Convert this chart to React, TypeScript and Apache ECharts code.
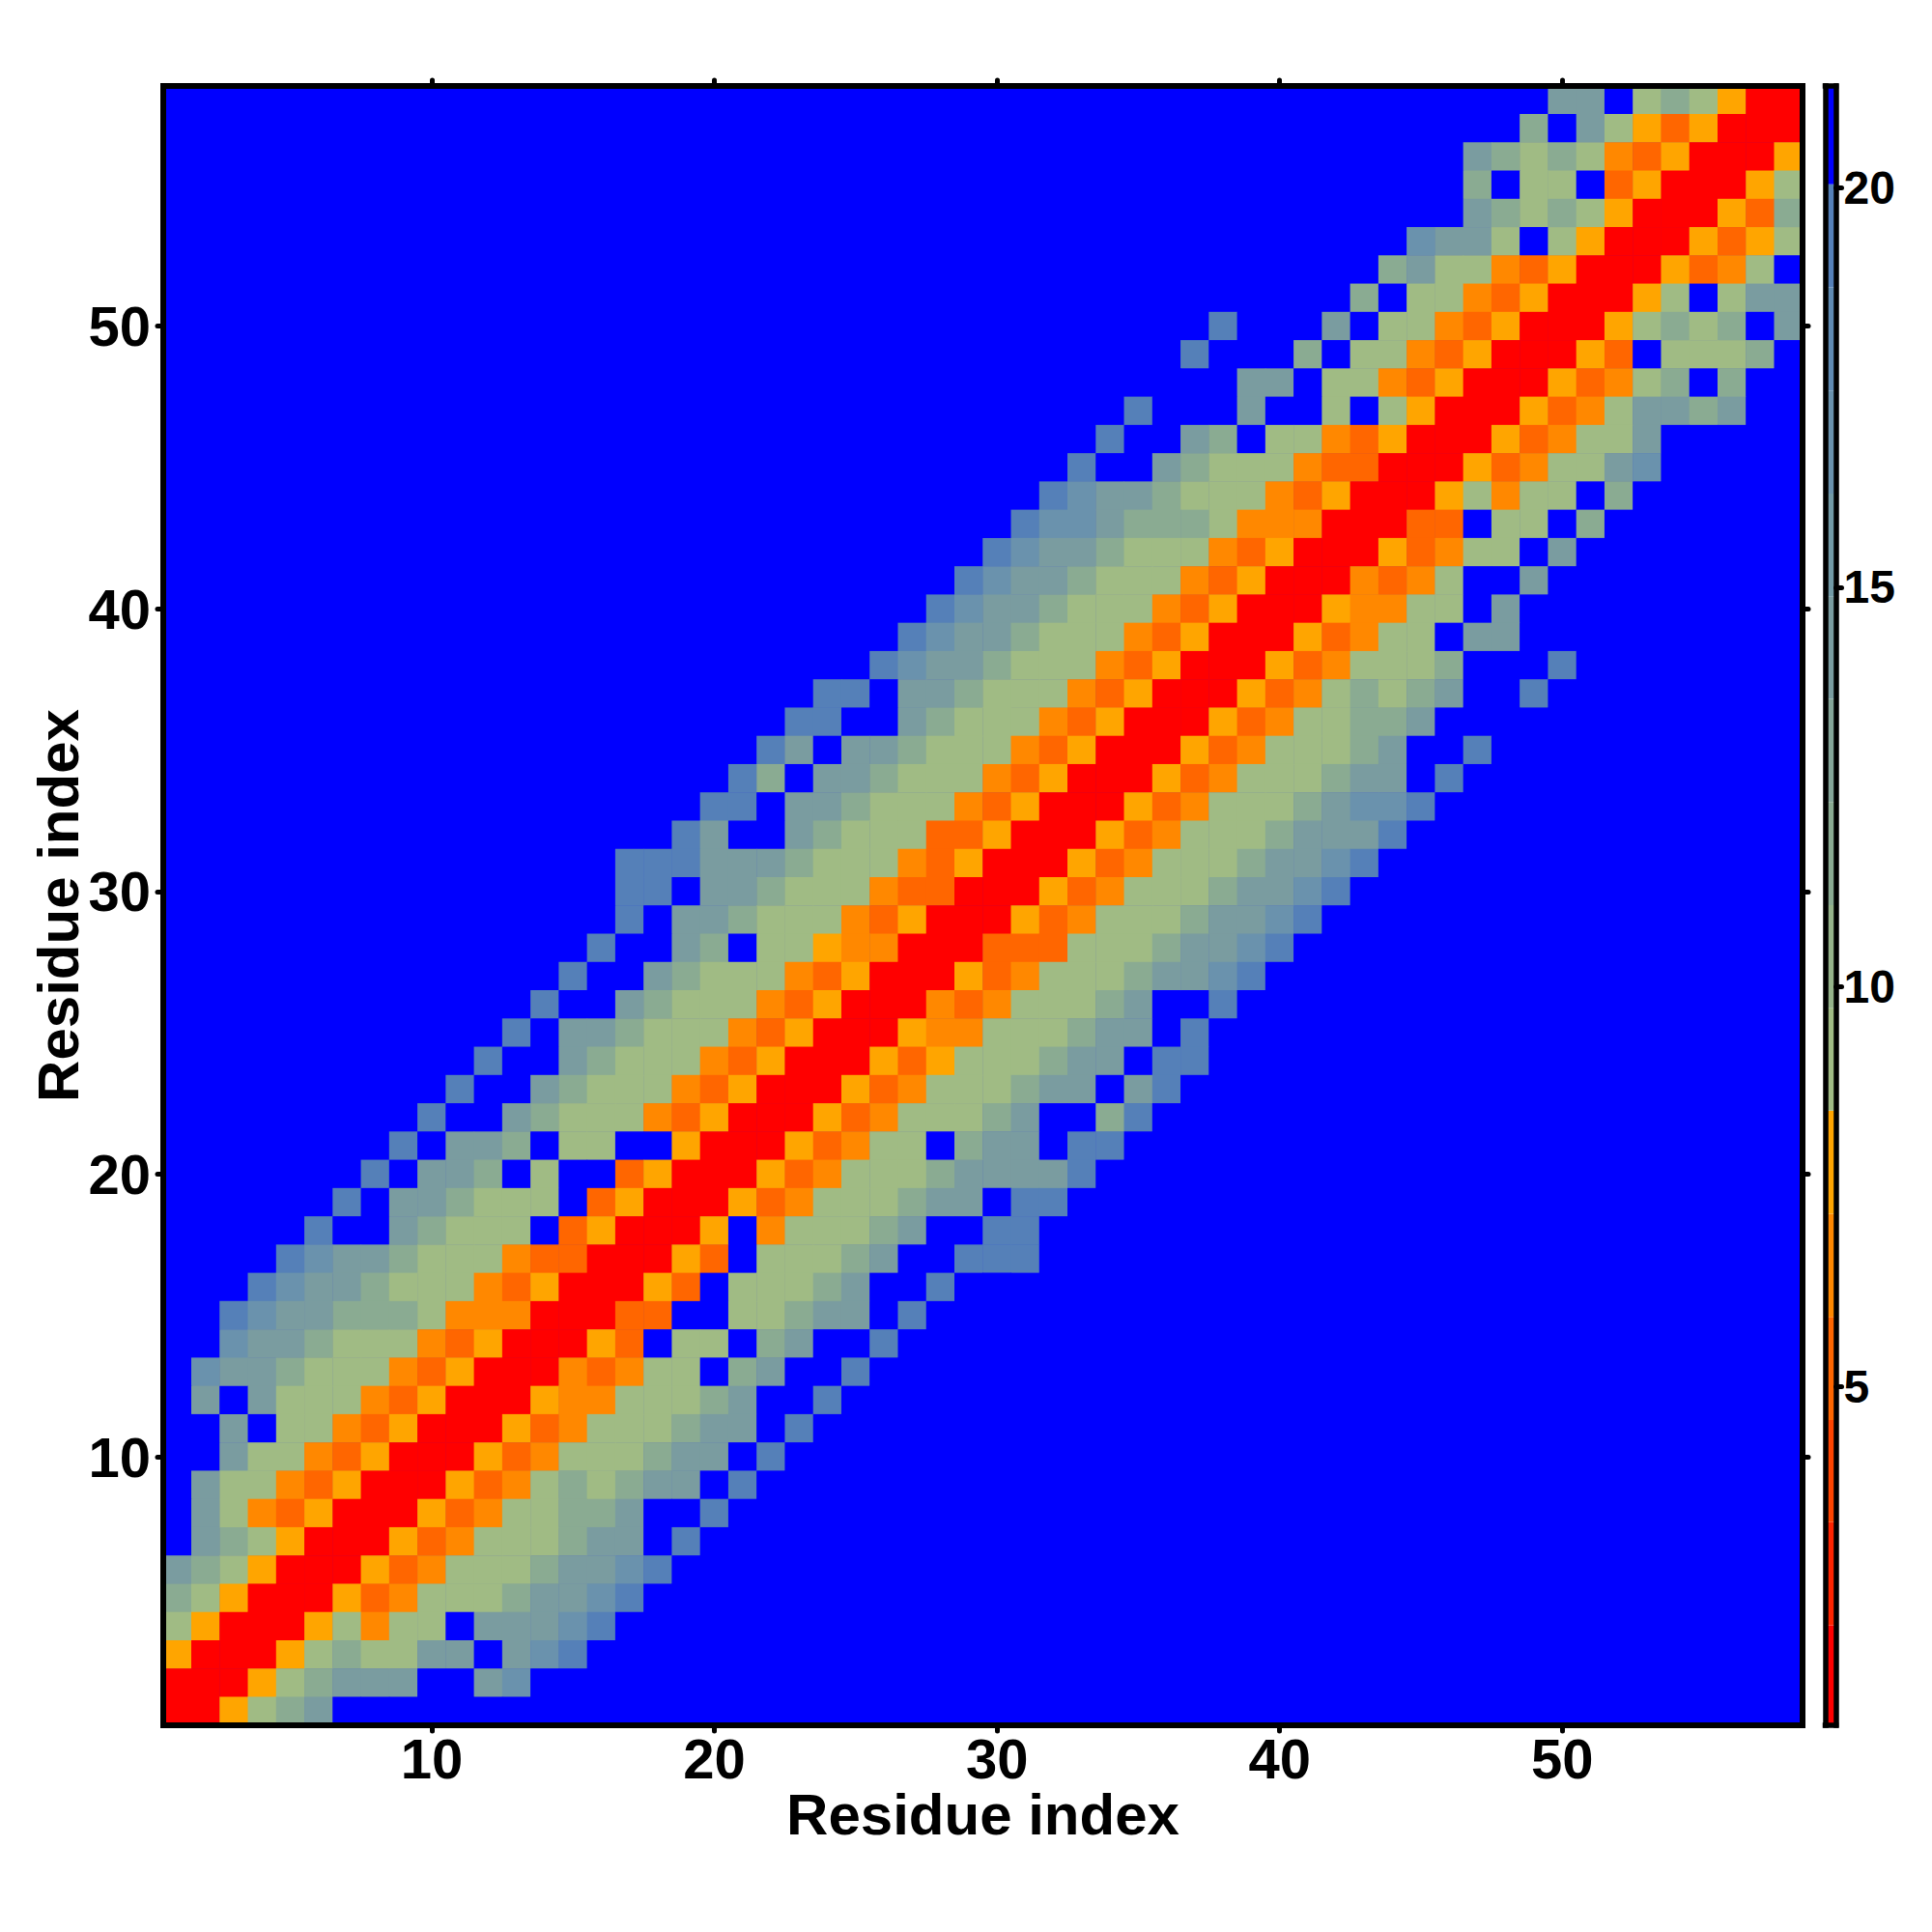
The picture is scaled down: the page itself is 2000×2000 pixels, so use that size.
import React, { useEffect, useRef } from "react";
import * as echarts from "echarts";

const residues = Array.from({ length: 58 }, (_, i) => String(i + 1));
const tickValues = [10, 20, 30, 40, 50];
const barTicks = [5, 10, 15, 20];

// Colour bar bands: upper limits and fills, from the bottom of the bar to the top.
const bandEdges = [0.76, 2.01, 3.3, 4.58, 5.87, 7.16, 8.45, 9.73, 11.02, 12.31, 13.6, 14.88, 16.17, 17.46, 18.75, 20.04, 21.27];
const bandColors = [
  "#ff0000", "#ff2400", "#ff4400", "#ff6600", "#ff8800", "#ffa500",
  "#a0bb84", "#95b38a", "#8aab92", "#84a598", "#7a9ca0", "#729aa6",
  "#6a92ad", "#5f8ab2", "#5580b8", "#0000ff",
];

// Distance read for each colour seen in the map; "." is a cell beyond the scale.
const cellDistance: Record<string, number> = {
  R: 1.5, o: 5.2, O: 6.5, A: 7.8, s: 9.1, t: 11.6, u: 14.2, v: 16.8, w: 19.4, ".": 21,
};

// Rows from residue 58 down to residue 1: blue cells before the band, then the band.
const rowOffsets = [
  49, 48, 46, 46, 46, 44, 43, 42, 37, 36, 38, 34, 33, 32, 31, 30, 29, 28, 27, 26,
  25, 23, 22, 21, 20, 19, 18, 16, 16, 16, 15, 14, 13, 12, 11, 10, 9, 8, 7, 6,
  5, 4, 3, 2, 2, 1, 1, 2, 2, 1, 1, 1, 0, 0, 0, 0, 0, 0,
];
const rowCells = [
  "uu.stsARR",
  "t.usAoARRR",
  "utstsOoARRRA",
  "t.ss.oARRRAs",
  "utstsARRRAot",
  "vuus.sARRRAoAs",
  "tussOoARRRAoOs.",
  "t.ssOoARRRAs.suu",
  "w...u.ssOoARRRAstst.u",
  "w...t.ssOoARRRAo.ssst.",
  "uu.ssOoARRRAoOst.t..",
  "w...u..s.sARRRAoOsuutu..",
  "w..ut.ssOoARRRAoOssu",
  "w..utsssOooRRRAoOssuv",
  "wvuutsssOoARRRAsOss.t",
  "wvvutttsOOORRRoo.ss.t",
  "wvuutsssOoARRRAoOss.u",
  "wvuutsssOoARRROoOs..u",
  "wvuutsssOoARRRAOOss.u",
  "wvuutsssOoARRRAoOss.uu",
  "wvuutsssOoARRRAoOssst...w",
  "ww.uutsssOoARRRAoOststu..w",
  "ww..utsssOoARRRAoOssttu",
  "wu.uutsssOoARRRAoOssstu..w",
  "wt.uutsssOoARRRAoOssstuu.w",
  "ww.uutsssOoARRRAoOssstuvvw",
  "wu..utsssooARRRAoOssstuuuw",
  "wwwuuutsssOoARRRAoOssstuuvw",
  "ww.uutsssOooRRRAoOssstuuvw",
  "w.uutsssOoARRRAoOssstuuvw",
  "w..ut.ssAOORRRooossstuuvw",
  "w..utsssOoARRRAoOssstuuvw",
  "w..utsssOoARRROoOssstu..w",
  "w.uutsssOoARRRAOOssstuu.w",
  "w..utsssOoARRRAoAssstuu.ww",
  "w..utsssOoARRRAoOssstuu.uw",
  "w..utsssOoARRRAoOssstu..tw",
  "w.uut.ss..ARRRAoOss.tuu.ww",
  "w.uut.s..oARRRAoOssstuuuuw",
  "w.uutsss.oARRRAoOssstuu.ww",
  "w..utsss.oARRRA.Ossstu..ww",
  "wvuutsssOooRRRAo.ssstu..www",
  "wvuutsssOoARRRAo.ssstu..w",
  "wvuutttsOOORRRoo..sstuu.w",
  "vuutsssOoARRRAo.ss.tu..w",
  "vuutsssOoARRROoOss.tu..w",
  "u.usssOoARRRAOOssstu..w",
  "u.ssOoARRRAoOssstuu.w",
  "ussOoARRRAoOssstuu.w",
  "ussOoARRRAoOststuu.w",
  "usOoARRRAoOssttu..w",
  "utsARRRAoOssstuu.w",
  "utsARRRAoOssstuuvw",
  "tsARRRAoOssstuuvw",
  "sARRRAsOss.uuuvw",
  "ARRRAstssuu.uvw",
  "RRRAstuuu..uv",
  "RRAstu",
];

const heatData: number[][] = [];
rowCells.forEach((cells, rowIndex) => {
  const y = 57 - rowIndex;
  for (let x = 0; x < 58; x++) {
    const symbol = cells[x - rowOffsets[rowIndex]] ?? ".";
    heatData.push([x, y, cellDistance[symbol]]);
  }
});

const barData = bandColors.map((_, i) => [0, bandEdges[i], bandEdges[i + 1]]);

const FONT = "Liberation Sans";
const isLabelled = (_: number, value: string) => tickValues.includes(Number(value));

const thickLine = { lineStyle: { color: "#000", width: 6, cap: "square" as const }, onZero: false };
const barLine = { lineStyle: { color: "#000", width: 5.5, cap: "square" as const }, onZero: false };
const tickStyle = { color: "#000", width: 5, cap: "round" as const };
const ticks = { show: true, interval: isLabelled, alignWithLabel: true, length: 6, inside: false, lineStyle: tickStyle };
const labels = {
  show: true,
  interval: isLabelled,
  color: "#000",
  fontFamily: FONT,
  fontWeight: "bold" as const,
  fontSize: 58,
};
const titleStyle = { color: "#000", fontFamily: FONT, fontWeight: "bold" as const, fontSize: 60, lineHeight: 46 };

export default function App() {
  const ref = useRef<HTMLDivElement>(null);
  useEffect(() => {
    const chart = echarts.init(ref.current!, undefined, { renderer: "svg" });
    chart.setOption({
      animation: false,
      backgroundColor: "#fff",
      grid: [
        { left: 169, top: 89, width: 1697, height: 1697, show: true, backgroundColor: "#0000ff", borderWidth: 0 },
        { left: 1889.5, top: 89, width: 11, height: 1697, show: false },
      ],
      xAxis: [
        {
          type: "category", gridIndex: 0, position: "bottom", data: residues, z: 10,
          axisLine: thickLine, axisTick: ticks, splitLine: { show: false },
          axisLabel: { ...labels, margin: 9, lineHeight: 50 },
          name: "Residue index", nameLocation: "middle", nameGap: 69, nameMoveOverlap: false, nameTextStyle: titleStyle,
        },
        {
          type: "category", gridIndex: 0, position: "top", data: residues, z: 10,
          axisLine: thickLine, axisTick: ticks, axisLabel: { show: false }, splitLine: { show: false },
        },
        {
          type: "value", gridIndex: 1, position: "bottom", min: 0, max: 1, z: 10,
          axisLine: barLine, axisTick: { show: false }, axisLabel: { show: false }, splitLine: { show: false },
        },
        {
          type: "value", gridIndex: 1, position: "top", min: 0, max: 1, z: 10,
          axisLine: barLine, axisTick: { show: false }, axisLabel: { show: false }, splitLine: { show: false },
        },
      ],
      yAxis: [
        {
          type: "category", gridIndex: 0, position: "left", data: residues, z: 10,
          axisLine: thickLine, axisTick: ticks, splitLine: { show: false },
          axisLabel: { ...labels, margin: 13 },
          name: "Residue index", nameLocation: "middle", nameGap: 86, nameMoveOverlap: false, nameTextStyle: titleStyle,
        },
        {
          type: "category", gridIndex: 0, position: "right", data: residues, z: 10,
          axisLine: thickLine, axisTick: ticks, axisLabel: { show: false }, splitLine: { show: false },
        },
        {
          type: "value", gridIndex: 1, position: "left", min: bandEdges[0], max: bandEdges[16], z: 10,
          axisLine: barLine, axisTick: { show: false }, axisLabel: { show: false }, splitLine: { show: false },
        },
        {
          type: "value", gridIndex: 1, position: "right", min: bandEdges[0], max: bandEdges[16], z: 10,
          axisLine: barLine,
          axisTick: { show: true, customValues: barTicks, length: 6, lineStyle: tickStyle },
          axisLabel: {
            show: true, customValues: barTicks, formatter: (v: number) => String(v), margin: 8,
            color: "#000", fontFamily: FONT, fontWeight: "bold", fontSize: 48,
          },
          splitLine: { show: false },
        },
      ],
      visualMap: {
        type: "piecewise", show: false, seriesIndex: 0, dimension: 2,
        pieces: bandColors.map((color, i) => ({ gte: bandEdges[i], lt: bandEdges[i + 1], color })),
      },
      series: [
        {
          type: "heatmap", xAxisIndex: 0, yAxisIndex: 0, data: heatData, silent: true, progressive: 0,
          itemStyle: { borderWidth: 0 }, emphasis: { disabled: true },
        },
        {
          type: "custom", xAxisIndex: 2, yAxisIndex: 2, data: barData, silent: true,
          encode: { x: 0, y: [1, 2] },
          renderItem: (params: any, api: any) => {
            const low = api.coord([0, api.value(1)]);
            const high = api.coord([0, api.value(2)]);
            return {
              type: "rect",
              shape: { x: params.coordSys.x, y: high[1], width: params.coordSys.width, height: low[1] - high[1] },
              style: { fill: bandColors[params.dataIndex] },
            };
          },
        },
      ],
    });
    return () => chart.dispose();
  }, []);
  return <div ref={ref} style={{ position: "fixed", left: 0, top: 0, width: 2000, height: 2000 }} />;
}
